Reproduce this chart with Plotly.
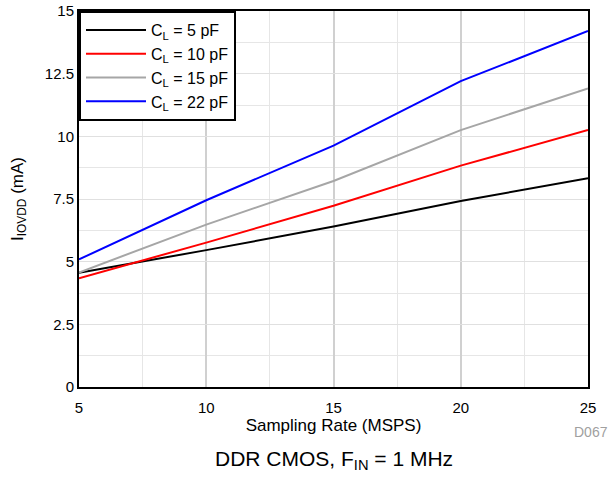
import plotly.graph_objects as go

rate = [5, 10, 15, 20, 25]
cl5 = [4.56, 5.46, 6.40, 7.42, 8.33]
cl10 = [4.34, 5.76, 7.23, 8.83, 10.25]
cl15 = [4.57, 6.48, 8.22, 10.25, 11.91]
cl22 = [5.09, 7.45, 9.63, 12.2, 14.2]

series = [
    ("C<sub>L</sub> = 5 pF", cl5, "#000000"),
    ("C<sub>L</sub> = 10 pF", cl10, "#ff0000"),
    ("C<sub>L</sub> = 15 pF", cl15, "#a6a6a6"),
    ("C<sub>L</sub> = 22 pF", cl22, "#0000ff"),
]

font = "Liberation Sans, Arial, sans-serif"
fig = go.Figure()
for name, ys, c in series:
    fig.add_trace(go.Scatter(x=rate, y=ys, mode="lines", name=name,
                             line=dict(color=c, width=2)))

fig.update_layout(
    width=614, height=478,
    margin=dict(l=79, r=26, t=11, b=91),
    plot_bgcolor="white", paper_bgcolor="white",
    font=dict(family=font, size=15, color="black"),
    showlegend=True,
    legend=dict(x=0, y=1, xanchor="left", yanchor="top",
                bordercolor="black", borderwidth=2, bgcolor="white",
                font=dict(size=16), tracegroupgap=0, itemwidth=60),
    xaxis=dict(range=[5, 25], tickvals=[5, 10, 15, 20, 25], automargin=False,
               showgrid=True, gridcolor="#d0d0d0", gridwidth=1.5,
               minor=dict(tickvals=[7.5, 12.5, 17.5, 22.5], showgrid=True, gridcolor="#e6e6e6", gridwidth=1),
               showline=True, linecolor="black", linewidth=2, mirror=True,
               ticks="", ticklabelstandoff=6, zeroline=False,
               title=dict(text="Sampling Rate (MSPS)", font=dict(size=17), standoff=0),
               tickfont=dict(size=15)),
    yaxis=dict(range=[0, 15], tickvals=[0, 2.5, 5, 7.5, 10, 12.5, 15], automargin=False,
               ticktext=["0", "2.5", "5", "7.5", "10", "12.5", "15"],
               showgrid=True, gridcolor="#e0e0e0", gridwidth=1,
               minor=dict(tickvals=[1.25, 3.75, 6.25, 8.75, 11.25, 13.75], showgrid=True, gridcolor="#e6e6e6", gridwidth=1),
               showline=True, linecolor="black", linewidth=2, mirror=True,
               ticks="", zeroline=False,
               title=dict(text="I<sub>IOVDD</sub> (mA)", font=dict(size=17), standoff=17),
               tickfont=dict(size=15)),
)

fig.add_annotation(text="D067", xref="paper", yref="paper", x=1.043, y=-0.12,
                   xanchor="right", yanchor="middle", showarrow=False,
                   font=dict(size=14, color="#a0a0a0", family=font))
fig.add_annotation(text="DDR CMOS, F<sub>IN</sub> = 1 MHz", xref="paper", yref="paper",
                   x=0.5, y=-0.195, xanchor="center", yanchor="middle", showarrow=False,
                   font=dict(size=21, color="black", family=font))

fig.write_html("out.html", config={"displayModeBar": False},
               post_script="document.body.style.margin='0';")
